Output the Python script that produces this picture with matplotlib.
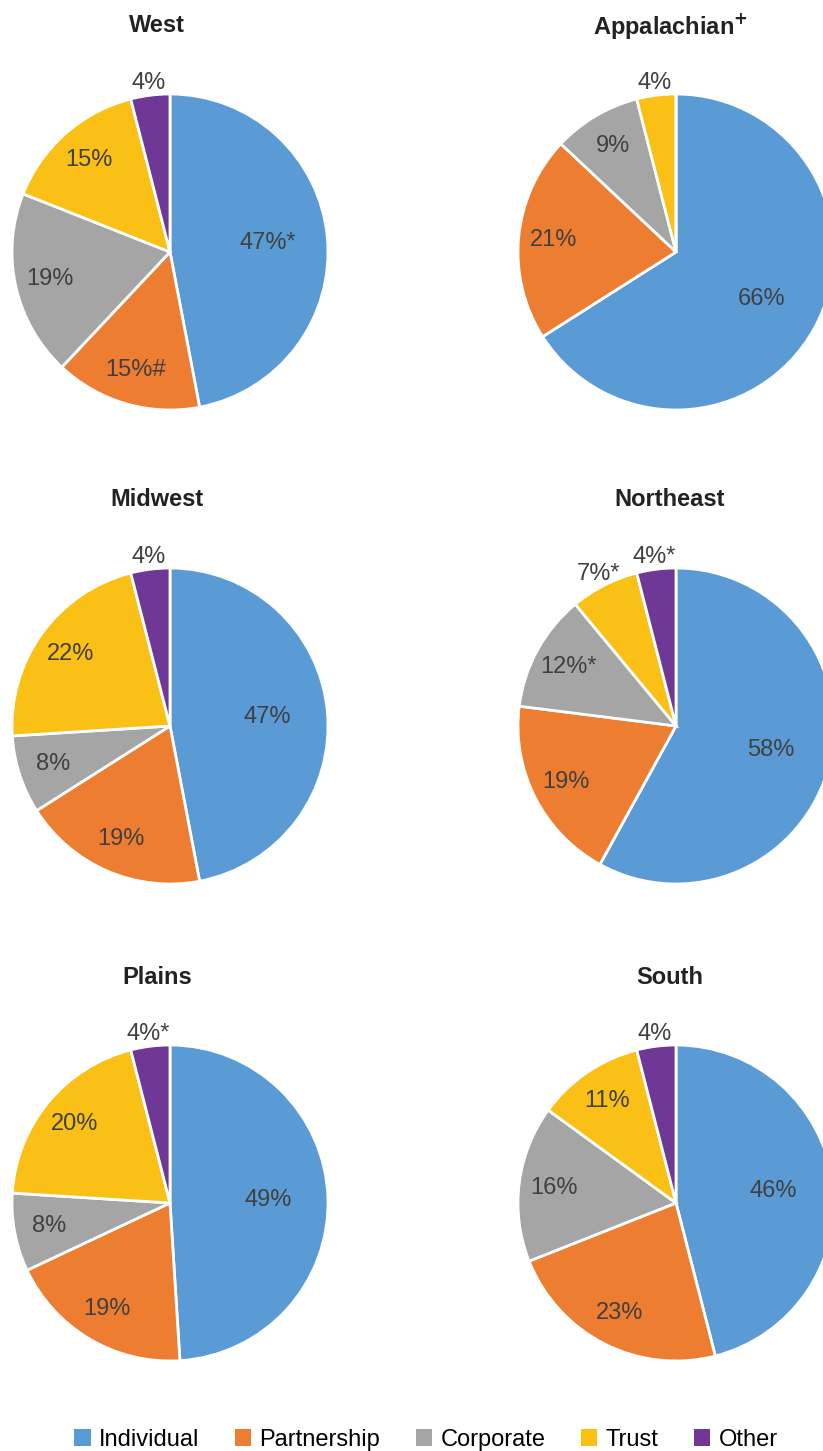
import matplotlib.pyplot as plt
from matplotlib.patches import Patch
import numpy as np

plt.rcParams['font.family'] = ['Liberation Sans', 'DejaVu Sans']

categories = ["Individual", "Partnership", "Corporate", "Trust", "Other"]
colors = ["#5B9BD5", "#ED7D31", "#A5A5A5", "#FBC015", "#6F3896"]

regions = ["West", "Appalachian$^{\\mathbf{+}}$", "Midwest", "Northeast", "Plains", "South"]

west = [47, 15, 19, 15, 4]
appalachian = [66, 21, 9, 4, 0]
midwest = [47, 19, 8, 22, 4]
northeast = [58, 19, 12, 7, 4]
plains = [49, 19, 8, 20, 4]
south = [46, 23, 16, 11, 4]

# significance marks next to the percent labels
west_marks = ["*", "#", "", "", ""]
appalachian_marks = ["", "", "", "", ""]
midwest_marks = ["", "", "", "", ""]
northeast_marks = ["", "", "*", "*", "*"]
plains_marks = ["", "", "", "", "*"]
south_marks = ["", "", "", "", ""]

values = [west, appalachian, midwest, northeast, plains, south]
marks = [west_marks, appalachian_marks, midwest_marks,
         northeast_marks, plains_marks, south_marks]

W, H = 823, 1451
fig = plt.figure(figsize=(W / 100, H / 100), dpi=100)

# pixel layout of the pies (center x, center y from top)
col_x = [170, 676]
row_y = [252, 726, 1203]
title_x = [157, 670]
R = 158

for i, (vals, mk, name) in enumerate(zip(values, marks, regions)):
    cx = col_x[i % 2]
    cy = row_y[i // 2]
    ax = fig.add_axes([(cx - R) / W, 1 - (cy + R) / H, 2 * R / W, 2 * R / H])
    wedges, _ = ax.pie(vals, colors=colors, startangle=90, counterclock=False,
                       wedgeprops=dict(edgecolor="white", linewidth=2))
    ax.set_xlim(-1, 1)
    ax.set_ylim(-1, 1)
    for j, (w, v) in enumerate(zip(wedges, vals)):
        if v == 0:
            continue
        ang = np.deg2rad((w.theta1 + w.theta2) / 2)
        if j == 0:
            d = 0.62
        elif v < 8:
            d = 1.08
        else:
            d = 0.78
        ax.text(d * np.cos(ang), d * np.sin(ang), f"{v}%{mk[j]}",
                ha="center", va="center", fontsize=17, color="#404040")
    fig.text(title_x[i % 2] / W, 1 - (cy - 226) / H, name, ha="center",
             va="center", fontsize=17, fontweight="bold", color="#222222")

handles = [Patch(facecolor=c, edgecolor="none") for c in colors]
fig.legend(handles, categories, loc="center", bbox_to_anchor=(426 / W, 1 - 1440 / H),
           ncol=5, frameon=False, fontsize=17, handlelength=0.7, handleheight=0.7,
           handletextpad=0.35, columnspacing=1.5, borderpad=0)

fig.savefig("out.png", dpi=100)
